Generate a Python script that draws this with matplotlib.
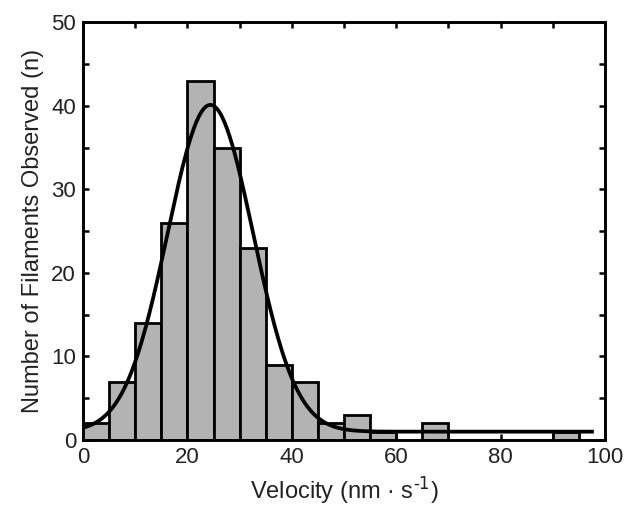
import numpy as np
import matplotlib
matplotlib.use("Agg")
import matplotlib.pyplot as plt
from matplotlib.ticker import MultipleLocator

plt.rcParams['font.family'] = ['Liberation Sans', 'DejaVu Sans']
plt.rcParams['mathtext.default'] = 'regular'

# histogram: 5 nm/s bins from 0 to 100
bin_left = [0, 5, 10, 15, 20, 25, 30, 35, 40, 45, 50, 55, 60, 65, 70, 75, 80, 85, 90, 95]
counts = [2, 7, 14, 26, 43, 35, 23, 9, 7, 2, 3, 1, 0, 2, 0, 0, 0, 0, 1, 0]
bin_width = 5

# Gaussian fit parameters (baseline, amplitude, centre, sigma)
fit_y0 = 1.0
fit_amp = 39.1
fit_xc = 24.4
fit_sigma = 8.2
fit_range = (0, 97.5)

fig = plt.figure(figsize=(6.24, 5.15), dpi=100)
ax = fig.add_axes([0.133, 0.1456, 0.8366, 0.8114])

heights = np.array(counts, dtype=float)
mask = heights > 0
ax.bar(np.array(bin_left)[mask], heights[mask], width=bin_width, align='edge',
       color='#b3b3b3', edgecolor='black', linewidth=2.0, zorder=2)

xf = np.linspace(fit_range[0], fit_range[1], 400)
yf = fit_y0 + fit_amp * np.exp(-(xf - fit_xc) ** 2 / (2 * fit_sigma ** 2))
ax.plot(xf, yf, color='black', linewidth=2.7, zorder=3)

ax.set_xlim(0, 100)
ax.set_ylim(0, 50)
ax.xaxis.set_major_locator(MultipleLocator(20))
ax.xaxis.set_minor_locator(MultipleLocator(10))
ax.yaxis.set_major_locator(MultipleLocator(10))
ax.yaxis.set_minor_locator(MultipleLocator(5))
ax.tick_params(which='both', direction='in', top=True, right=True,
               width=1.8, length=4.5, labelsize=16, colors='black',
               labelcolor='#222222', pad=5)
for s in ax.spines.values():
    s.set_linewidth(2.1)
    s.set_zorder(4)

ax.set_xlabel('Velocity (nm · s$^{\\text{-1}}$)', fontsize=17, color='#222222', labelpad=5)
ax.set_ylabel('Number of Filaments Observed (n)', fontsize=17, color='#222222', labelpad=5)

fig.savefig('out.png', dpi=100)
